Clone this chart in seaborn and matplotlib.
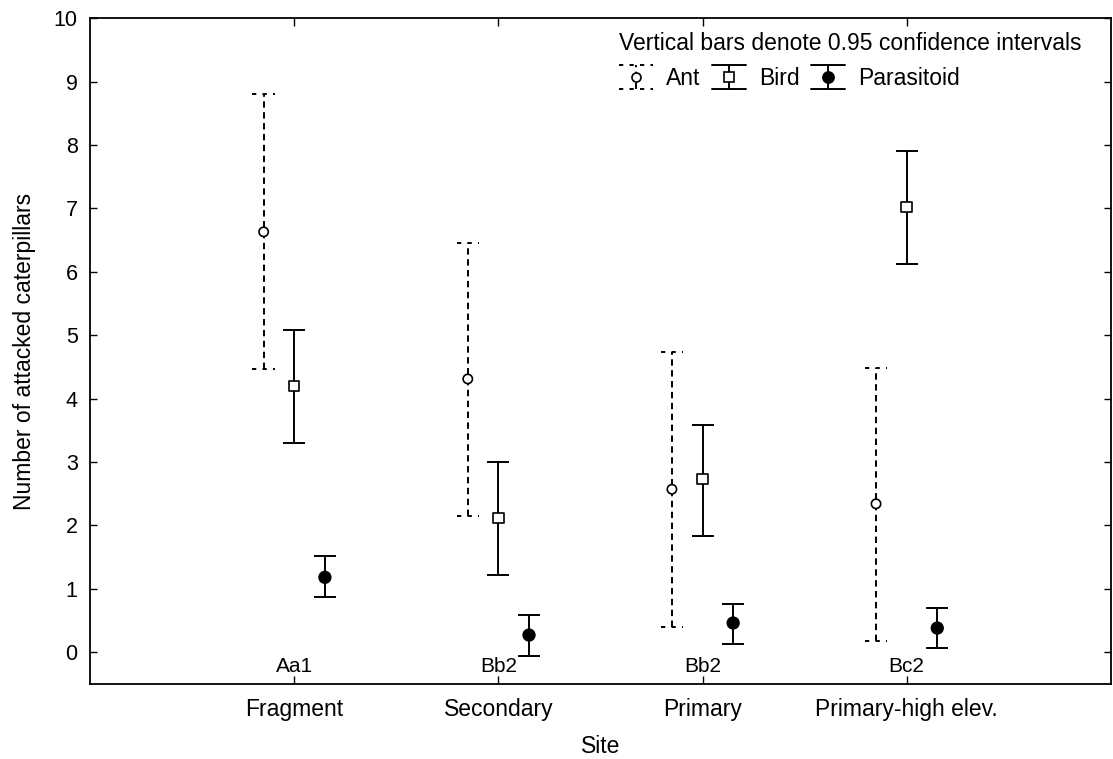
#Importing required libraries
import numpy as np
import pandas as pd
import matplotlib
matplotlib.use("Agg")
import matplotlib.pyplot as plt
from matplotlib.lines import Line2D
from matplotlib.legend_handler import HandlerBase
import seaborn as sns

#Data
sites = ["Fragment", "Secondary", "Primary", "Primary-high elev."]
site_codes = ["Aa1", "Bb2", "Bb2", "Bc2"]
series = ["Ant", "Bird", "Parasitoid"]

ant_mean = [6.63, 4.31, 2.57, 2.34]
ant_lo = [4.47, 2.15, 0.40, 0.17]
ant_hi = [8.80, 6.46, 4.73, 4.49]

bird_mean = [4.20, 2.12, 2.73, 7.02]
bird_lo = [3.30, 1.22, 1.83, 6.13]
bird_hi = [5.08, 3.00, 3.59, 7.91]

par_mean = [1.18, 0.27, 0.46, 0.38]
par_lo = [0.87, -0.06, 0.13, 0.06]
par_hi = [1.51, 0.59, 0.76, 0.70]

#Building a long table
rows = []
for name, m, lo, hi in [("Ant", ant_mean, ant_lo, ant_hi),
                        ("Bird", bird_mean, bird_lo, bird_hi),
                        ("Parasitoid", par_mean, par_lo, par_hi)]:
    for i, s in enumerate(sites):
        rows.append({"site": s, "idx": i, "series": name, "mean": m[i], "lo": lo[i], "hi": hi[i]})
df = pd.DataFrame(rows)

offsets = {"Ant": -0.15, "Bird": 0.0, "Parasitoid": 0.15}
df["x"] = df["idx"] + df["series"].map(offsets)

#Style
sns.set_style("ticks")
plt.rcParams['font.family'] = ['Liberation Sans', 'DejaVu Sans']
plt.rcParams['text.color'] = 'black'
plt.rcParams['axes.labelcolor'] = 'black'
plt.rcParams['xtick.color'] = 'black'
plt.rcParams['ytick.color'] = 'black'

fig = plt.figure(figsize=(11.13, 7.59), dpi=100)
ax = fig.add_axes([0.081, 0.099, 0.917, 0.877])

lw = 1.4
dash = (0, (3.3, 2.3))
for name in series:
    sub = df[df["series"] == name]
    yerr = [sub["mean"] - sub["lo"], sub["hi"] - sub["mean"]]
    if name == "Ant":
        eb = ax.errorbar(sub["x"], sub["mean"], yerr=yerr, fmt="none", ecolor="black",
                         elinewidth=lw, capsize=0, zorder=2)
        eb[2][0].set_linestyle(dash)
        # dashed caps
        ax.hlines(list(sub["lo"]) + list(sub["hi"]),
                  list(sub["x"] - 0.055) * 2, list(sub["x"] + 0.055) * 2,
                  colors="black", linewidth=lw, linestyles=(0, (2.2, 3.2)), zorder=2)
    else:
        ax.errorbar(sub["x"], sub["mean"], yerr=yerr, fmt="none", ecolor="black",
                    elinewidth=lw, capsize=8, capthick=lw, zorder=2)

#Markers with seaborn
sns.scatterplot(data=df, x="x", y="mean", style="series", hue="series",
                markers={"Ant": "o", "Bird": "s", "Parasitoid": "o"},
                palette={"Ant": "white", "Bird": "white", "Parasitoid": "black"},
                size="series", sizes={"Ant": 45, "Bird": 55, "Parasitoid": 70},
                edgecolor="black", linewidth=1.2, legend=False, zorder=3, ax=ax)

#Site codes above the axis
for i, code in enumerate(site_codes):
    ax.text(i, -0.22, code, ha="center", va="center", fontsize=15)

ax.set_xlim(-1, 4)
ax.set_ylim(-0.5, 10)
ax.set_xticks(range(len(sites)))
ax.set_xticklabels(sites, fontsize=16.5)
ax.set_yticks(range(0, 11))
ax.tick_params(axis="y", direction="in", left=True, right=True, length=5, width=1, labelsize=15.5, pad=9)
ax.tick_params(axis="x", direction="in", bottom=True, top=True, length=6, width=1, pad=10)
for sp in ax.spines.values():
    sp.set_linewidth(1.3)
    sp.set_color("black")

ax.set_xlabel("Site", fontsize=16.5, labelpad=10)
ax.set_ylabel("Number of attacked caterpillars", fontsize=16.5, labelpad=13)


#Legend handle: vertical bar with caps and marker
class ErrHandler(HandlerBase):
    def __init__(self, dashed, mk, mfc, ms):
        super().__init__()
        self.dashed, self.mk, self.mfc, self.ms = dashed, mk, mfc, ms

    def create_artists(self, legend, orig_handle, xdescent, ydescent, width, height, fontsize, trans):
        cx = -xdescent + width / 2
        y0 = -ydescent - 0.25 * height
        y1 = -ydescent + 1.25 * height
        ls = dash if self.dashed else "-"
        cls = (0, (2.2, 3.2)) if self.dashed else "-"
        arts = [Line2D([cx, cx], [y0, y1], color="black", lw=lw, ls=ls),
                Line2D([-xdescent, -xdescent + width], [y0, y0], color="black", lw=lw, ls=cls),
                Line2D([-xdescent, -xdescent + width], [y1, y1], color="black", lw=lw, ls=cls),
                Line2D([cx], [(y0 + y1) / 2], marker=self.mk, ls="none", mfc=self.mfc,
                       mec="black", ms=self.ms, mew=1.2)]
        for a in arts:
            a.set_transform(trans)
        return arts


proxies = [Line2D([], []), Line2D([], []), Line2D([], [])]
handler_map = {proxies[0]: ErrHandler(True, "o", "white", 6.5),
               proxies[1]: ErrHandler(False, "s", "white", 7),
               proxies[2]: ErrHandler(False, "o", "black", 8)}
leg = ax.legend(proxies, series, handler_map=handler_map, ncol=3, loc="upper right",
                bbox_to_anchor=(0.987, 1.003), frameon=False, fontsize=16.5,
                title="Vertical bars denote 0.95 confidence intervals", title_fontsize=16.5,
                handlelength=1.5, columnspacing=0.5, handletextpad=0.55, borderaxespad=0.3)
leg._legend_box.align = "left"

plt.savefig("out.png", dpi=100)
